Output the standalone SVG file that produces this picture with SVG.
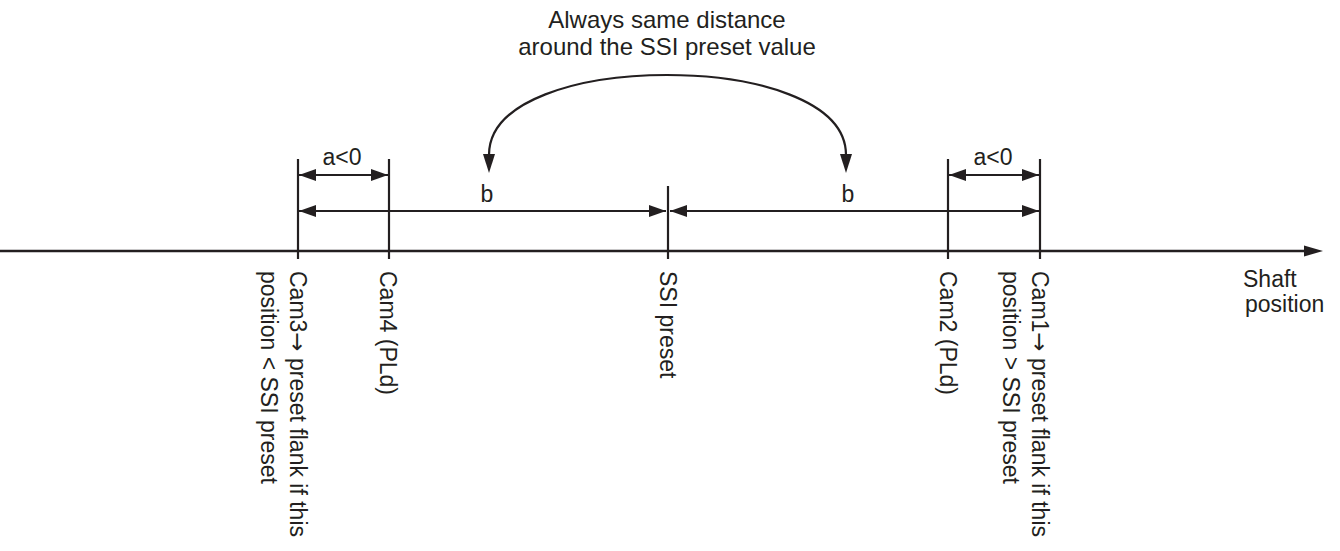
<svg xmlns="http://www.w3.org/2000/svg" width="1340" height="551" viewBox="0 0 1340 551">
<style>
  text { font-family: "Liberation Sans", Arial, sans-serif; font-size: 23px; fill: #231f20; }
  .title { font-size: 24px; text-anchor: middle; }
  .mid { text-anchor: middle; }
  .arr { font-family: "DejaVu Sans", sans-serif; }
  .ln { stroke: #231f20; stroke-width: 2.2; fill: none; }
  .axis { stroke: #231f20; stroke-width: 2.5; fill: none; }
</style>
<defs>
  <marker id="ah" viewBox="0 0 17 12" refX="17" refY="6" markerWidth="17" markerHeight="12" markerUnits="userSpaceOnUse" orient="auto-start-reverse">
    <path d="M0,0 L17,6 L0,12 z" fill="#231f20"/>
  </marker>
</defs>

<g id="title">
  <text class="title" x="667" y="28">Always same distance</text>
  <text class="title" x="667" y="55">around the SSI preset value</text>
</g>

<g id="axis">
  <line class="axis" x1="0" y1="251" x2="1306" y2="251"/>
  <path d="M1304,245.5 L1323,251 L1304,256.5 z" fill="#231f20"/>
  <text x="1243" y="287">Shaft</text>
  <text x="1245" y="312">position</text>
</g>

<g id="cam3">
  <line class="ln" x1="298" y1="159" x2="298" y2="259"/>
  <text transform="translate(290,271) rotate(90)">Cam3<tspan class="arr">→</tspan> preset flank if this<tspan x="0" dy="29">position &lt; SSI preset</tspan></text>
</g>
<g id="cam4">
  <line class="ln" x1="389" y1="159" x2="389" y2="259"/>
  <text transform="translate(380,271) rotate(90)">Cam4 (PLd)</text>
</g>
<g id="ssi">
  <line class="ln" x1="668" y1="186" x2="668" y2="259"/>
  <text transform="translate(660,271) rotate(90)">SSI preset</text>
</g>
<g id="cam2">
  <line class="ln" x1="948" y1="159" x2="948" y2="259"/>
  <text transform="translate(940,271) rotate(90)">Cam2 (PLd)</text>
</g>
<g id="cam1">
  <line class="ln" x1="1040" y1="159" x2="1040" y2="259"/>
  <text transform="translate(1032,271) rotate(90)">Cam1<tspan class="arr">→</tspan> preset flank if this<tspan x="0" dy="29">position &gt; SSI preset</tspan></text>
</g>

<g id="connectors">
  <line class="ln" x1="299" y1="175" x2="388" y2="175" marker-start="url(#ah)" marker-end="url(#ah)"/>
  <line class="ln" x1="299" y1="211" x2="666" y2="211" marker-start="url(#ah)" marker-end="url(#ah)"/>
  <line class="ln" x1="670" y1="211" x2="1039" y2="211" marker-start="url(#ah)" marker-end="url(#ah)"/>
  <line class="ln" x1="949" y1="175" x2="1039" y2="175" marker-start="url(#ah)" marker-end="url(#ah)"/>
  <path class="ln" d="M489,155 C489,100 580,75 667,75 C754,75 846,100 846,155"/>
  <path d="M483,154 L489,173 L495,154 z" fill="#231f20"/>
  <path d="M840,154 L846,173 L852,154 z" fill="#231f20"/>
</g>

<g id="labels">
  <text class="mid" x="342" y="165">a&lt;0</text>
  <text class="mid" x="993" y="165">a&lt;0</text>
  <text class="mid" x="487" y="202">b</text>
  <text class="mid" x="848" y="202">b</text>
</g>
</svg>
